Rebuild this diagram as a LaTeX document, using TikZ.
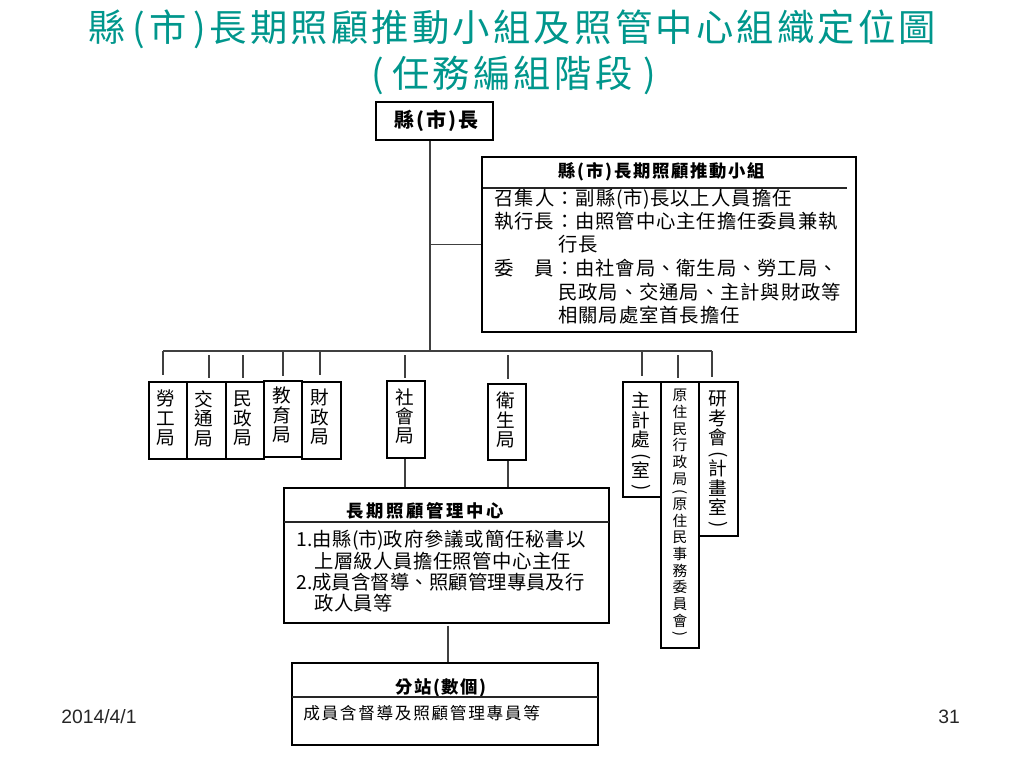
\documentclass[tikz,border=0pt]{standalone}
\usepackage{fontspec}
\usepackage{graphicx}
\setmainfont{Noto Sans CJK TC}
\newfontfamily\footfont{Liberation Sans}
\usetikzlibrary{fit}
\definecolor{titleteal}{RGB}{0,150,140}
\newcommand{\lpv}{\rotatebox[origin=c]{-90}{(}}
\newcommand{\rpv}{\rotatebox[origin=c]{-90}{)}}
% fixed-pitch setting of CJK text: \pitched{pitch}{paren width}{text}
\newlength\pitchw
\newlength\parw
\newcommand\pitched[3]{\setlength\pitchw{#1}\setlength\parw{#2}\pitchloop#3\relax}
\def\pitchloop#1{\ifx\relax#1\else\pitchone{#1}\expandafter\pitchloop\fi}
\def\pitchone#1{\ifx(#1\makebox[\parw][c]{#1}\else\ifx)#1\makebox[\parw][c]{#1}\else\makebox[\pitchw][l]{#1}\fi\fi}
\tikzset{
  box/.style={draw=black, line width=0.9pt, fill=white, inner sep=0pt},
  conn/.style={draw=black!75, line width=1.1pt},
  sepline/.style={draw=black!85, line width=0.8pt},
  body/.style={inner sep=0pt, anchor=west, font=\fontsize{14.5}{16}\selectfont},
  bbody/.style={inner sep=0pt, font={\bfseries\fontsize{13}{16}\selectfont\addfontfeature{LetterSpace=#1}}},
  bbody/.default=10,
  vt/.style={inner sep=0pt, anchor=north, align=center, font={\fontsize{14}{14.6}\selectfont}},
  vts/.style={inner sep=0pt, anchor=north, align=center, font={\fontsize{11}{12.5}\selectfont}},
  ttl/.style={inner sep=0pt, text=titleteal, font={\fontsize{28}{32}\selectfont}},
  foot/.style={inner sep=0pt, text=black!85, font={\footfont\fontsize{14.5}{16}\selectfont}}
}
\begin{document}
\begin{tikzpicture}[x=0.75pt,y=-0.75pt]
\useasboundingbox (0,0) rectangle (1024,768);
% title
\node[ttl] (title1) at (514,29) {\pitched{30.4pt}{15pt}{縣(市)長期照顧推動小組及照管中心組織定位圖}};
\node[ttl] (title2) at (514,75) {\pitched{30.4pt}{22pt}{(任務編組階段)}};
% top chief
\node[box, fit={(376,102) (493,140)}] (chief) {};
\node[inner sep=0pt, font={\bfseries\fontsize{15}{17}\selectfont\addfontfeature{LetterSpace=10}}] (chiefT) at (436,121) {縣(市)長};
% promotion group
\node[box, fit={(482,157) (856,332)}] (group) {};
\node[bbody=10] (groupT) at (662,172) {縣(市)長期照顧推動小組};
\draw[sepline] (483,188) -- (847,188);
\node[body] (g1) at (494,199) {\pitched{15.3pt}{4.9pt}{召集人：副縣(市)長以上人員擔任}};
\node[body] (g2) at (494,221) {\pitched{15.2pt}{5pt}{執行長：由照管中心主任擔任委員兼執}};
\node[body] (g3) at (558,244) {\pitched{15.2pt}{5pt}{行長}};
\node[body] (g4) at (494,268) {\pitched{15.2pt}{5pt}{委}\hspace{15.2pt}\pitched{15.2pt}{5pt}{員：由社會局、衛生局、勞工局、}};
\node[body] (g5) at (558,292) {\pitched{15.2pt}{5pt}{民政局、交通局、主計與財政等}};
\node[body] (g6) at (558,315) {\pitched{15.2pt}{5pt}{相關局處室首長擔任}};
% department boxes
\node[box, fit={(149,382) (187,459)}] (labor) {};
\node[box, fit={(187,382) (226,459)}] (traffic) {};
\node[box, fit={(226,382) (264,459)}] (civil) {};
\node[box, fit={(264,381) (302,457)}] (edu) {};
\node[box, fit={(302,382) (341,459)}] (fin) {};
\node[box, fit={(387,381) (425,458)}] (social) {};
\node[box, fit={(488,384) (526,460)}] (health) {};
\node[box, fit={(623,382) (661,497)}] (acct) {};
\node[box, fit={(661,382) (699,648)}] (abor) {};
\node[box, fit={(699,382) (738,536)}] (rdec) {};
\node[vt] (laborT) at (166,390) {勞\\工\\局};
\node[vt] (trafficT) at (204,390) {交\\通\\局};
\node[vt] (civilT) at (243,391) {民\\政\\局};
\node[vt] (eduT) at (282,387) {教\\育\\局};
\node[vt] (finT) at (320,389) {財\\政\\局};
\node[vt] (socialT) at (405,388) {社\\會\\局};
\node[vt] (healthT) at (506,392) {衛\\生\\局};
\node[vt] (acctT) at (641,392) {主\\計\\處\\[-3pt]\lpv\\[-3pt]室\\[-3pt]\rpv};
\node[vts] (aborT) at (680,389) {原\\住\\民\\行\\政\\局\\[-3pt]\lpv\\[-3pt]原\\住\\民\\事\\務\\委\\員\\會\\[-3pt]\rpv};
\node[vt] (rdecT) at (718,391) {研\\考\\會\\[-3pt]\lpv\\[-3pt]計\\畫\\室\\[-3pt]\rpv};
% care management center
\node[box, fit={(284,488) (609,623)}] (center) {};
\node[bbody=15] (centerT) at (425,511) {長期照顧管理中心};
\draw[sepline] (284,522) -- (609,522);
\node[body] (c1) at (296,540) {1.\pitched{15.2pt}{4pt}{由縣(市)政府參議或簡任秘書以}};
\node[body] (c2) at (314,561) {\pitched{14.85pt}{5pt}{上層級人員擔任照管中心主任}};
\node[body] (c3) at (296,582) {2.\pitched{14.6pt}{5pt}{成員含督導、照顧管理專員及行}};
\node[body] (c4) at (314,603) {\pitched{14.85pt}{5pt}{政人員等}};
% stations
\node[box, fit={(292,663) (598,745)}] (station) {};
\node[bbody=10] (stationT) at (441,688) {分站(數個)};
\draw[sepline] (292,697) -- (598,697);
\node[inner sep=0pt, anchor=west, font=\fontsize{12.5}{14}\selectfont] (s1) at (303,713) {\pitched{13.75pt}{5pt}{成員含督導及照顧管理專員等}};
% connectors
\coordinate (trunk) at (430,351);
\coordinate (d1) at (163,351);
\coordinate (d2) at (209,351);
\coordinate (d3) at (243,351);
\coordinate (d4) at (283,351);
\coordinate (d5) at (320,351);
\coordinate (d6) at (405,351);
\coordinate (d7) at (508,351);
\coordinate (d8) at (642,351);
\coordinate (d9) at (678,351);
\coordinate (d10) at (712,351);
\coordinate (dc) at (448,623);
\draw[conn] (chief.south -| trunk) -- (trunk);
\draw[conn] (trunk |- group.west) -- (group.west);
\draw[conn] (d1) -- (d10);
\draw[conn, shorten >=4.5pt] (d1) -- (d1 |- labor.north);
\draw[conn, shorten >=2.5pt, shorten <=3pt] (d2) -- (d2 |- traffic.north);
\draw[conn, shorten >=2.5pt, shorten <=3pt] (d3) -- (d3 |- civil.north);
\draw[conn, shorten >=3.5pt] (d4) -- (d4 |- edu.north);
\draw[conn, shorten >=4.5pt] (d5) -- (d5 |- fin.north);
\draw[conn, shorten >=2pt, shorten <=3pt] (d6) -- (d6 |- social.north);
\draw[conn, shorten >=3.5pt, shorten <=3pt] (d7) -- (d7 |- health.north);
\draw[conn, shorten >=4pt] (d8) -- (d8 |- acct.north);
\draw[conn, shorten >=2.5pt, shorten <=3pt] (d9) -- (d9 |- abor.north);
\draw[conn, shorten >=3pt] (d10) -- (d10 |- rdec.north);
\draw[conn] (d6 |- social.south) -- (d6 |- center.north);
\draw[conn] (d7 |- health.south) -- (d7 |- center.north);
\draw[conn, shorten <=1.5pt] (dc |- center.south) -- (dc |- station.north);
% footer
\node[foot] (date) at (99,716.5) {2014/4/1};
\node[foot] (page) at (949,716.5) {31};
\end{tikzpicture}
\end{document}
